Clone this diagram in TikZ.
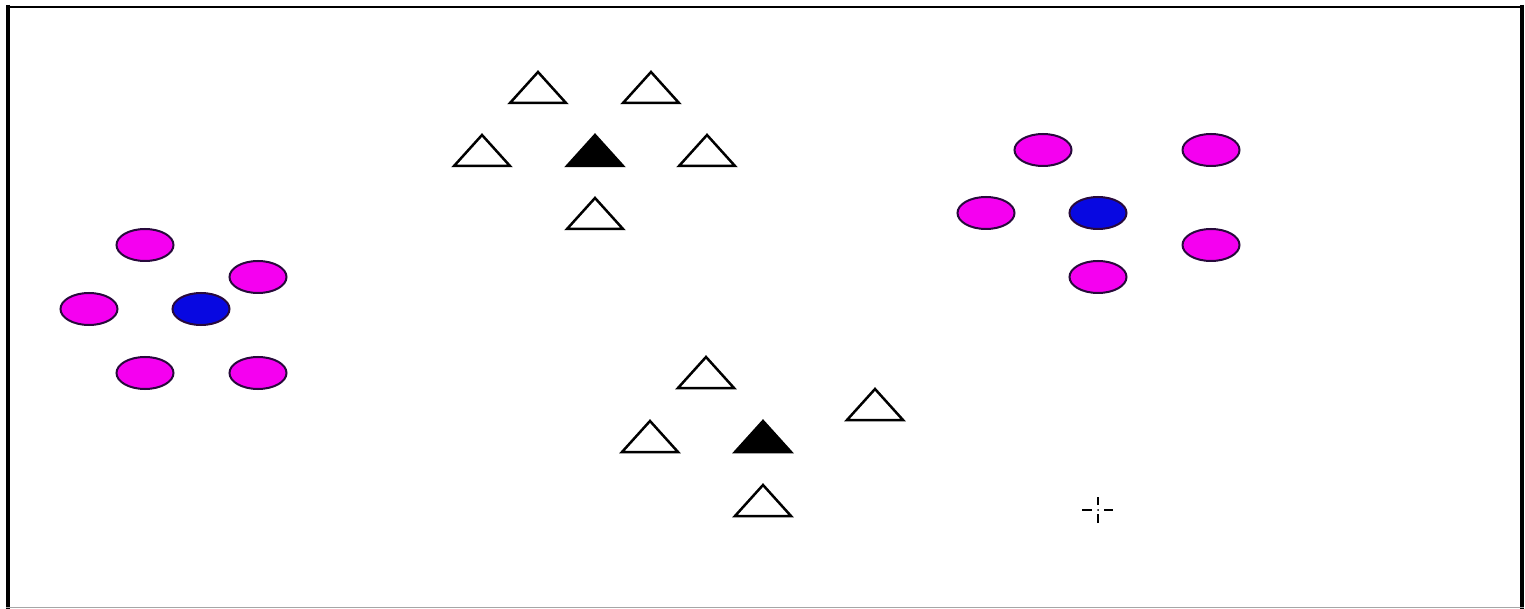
\documentclass[tikz,border=0pt]{standalone}
\usetikzlibrary{shapes.geometric}
\definecolor{mag}{RGB}{245,0,240}
\definecolor{blu}{RGB}{8,8,225}
\definecolor{edge}{RGB}{40,10,60}
\tikzset{
  dot/.style={ellipse, draw=edge, line width=2pt, fill=mag, minimum width=57pt, minimum height=32pt, inner sep=0pt},
  centre/.style={dot, fill=blu},
  tri/.pic={\draw[line width=2.5pt, line join=miter, #1] (-28,0) -- (0,-31) -- (28,0) -- cycle;},
  tri/.default={fill=white},
}
\begin{document}
\begin{tikzpicture}[x=1pt,y=-1pt]
\useasboundingbox (0,0) rectangle (1525,609);
\fill[white] (0,0) rectangle (1525,609);
% frame
\draw[line width=4pt] (8,5) -- (8,609);
\draw[line width=2pt] (6,7) -- (1524,7);
\draw[line width=4pt] (1522,5) -- (1522,609);
\draw[line width=1pt, gray!70] (6,607.5) -- (1524,607.5);
% left cluster
\node[dot] (l1) at (145,245) {};
\node[dot] (l2) at (258,277) {};
\node[dot] (l3) at (89,309) {};
\node[centre] (l0) at (201,309) {};
\node[dot] (l4) at (145,373) {};
\node[dot] (l5) at (258,373) {};
% right cluster
\node[dot] (r1) at (1043,150) {};
\node[dot] (r2) at (1211,150) {};
\node[dot] (r3) at (986,213) {};
\node[centre] (r0) at (1098,213) {};
\node[dot] (r4) at (1211,245) {};
\node[dot] (r5) at (1098,277) {};
% top triangle group
\pic at (538,103) {tri};
\pic at (651,103) {tri};
\pic at (482,166) {tri};
\pic at (595,166) {tri={fill=black}};
\pic at (707,166) {tri};
\pic at (595,229) {tri};
% bottom triangle group
\pic at (706,388) {tri};
\pic at (875,420) {tri};
\pic at (650,452) {tri};
\pic at (763,452) {tri={fill=black}};
\pic at (763,516) {tri};
% crosshair cursor
\coordinate (cc) at (1098,510);
\draw[line width=1.6pt] ([xshift=-16]cc) -- ([xshift=-6]cc);
\draw[line width=1.6pt] ([xshift=6]cc) -- ([xshift=15]cc);
\draw[line width=1.6pt] ([yshift=-13]cc) -- ([yshift=-4]cc);
\draw[line width=1.6pt] ([yshift=5]cc) -- ([yshift=13]cc);
\fill (cc) circle (1pt);
\end{tikzpicture}
\end{document}
